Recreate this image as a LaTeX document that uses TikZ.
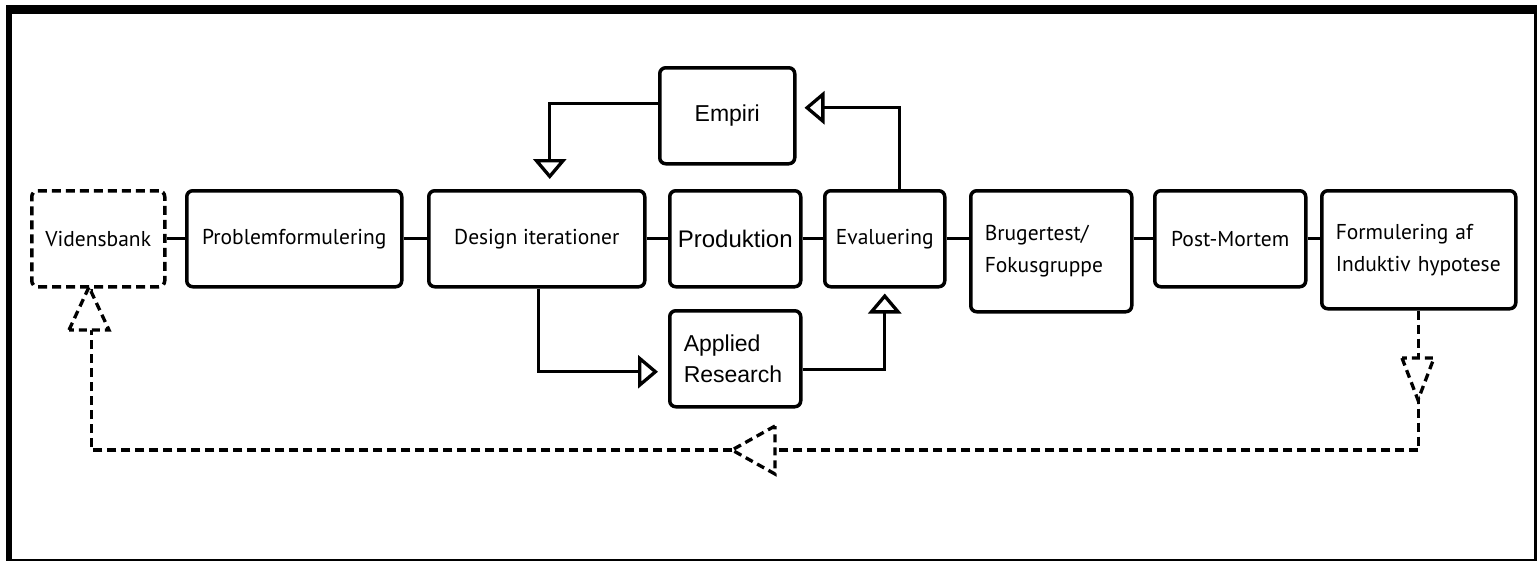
\documentclass[tikz,border=0pt]{standalone}
\usepackage{fontspec}
\newfontfamily\myr{PT Sans}
\newfontfamily\ari{Liberation Sans}
\usetikzlibrary{arrows.meta}
\newcommand\ptsz{\myr\fontsize{21.5}{32}\selectfont}
\newcommand\arsz{\ari\fontsize{23}{31}\selectfont}
\begin{document}
\begin{tikzpicture}[x=1pt,y=-1pt,
  box/.style={draw, line width=3.5pt, rounded corners=6pt, inner sep=0pt,
    anchor=north west, minimum height=96pt, font=\ptsz, align=center},
  lbox/.style={box, align=left, inner xsep=14pt},
  conn/.style={line width=3.3pt},
  arr/.style={line width=3.3pt, -{Triangle[open, length=20pt, width=33pt, line width=3.3pt]}},
  dline/.style={line width=3.3pt, dash pattern=on 9pt off 5pt},
  dtri/.style={draw, fill=white, line width=3.3pt, dash pattern=on 8pt off 5pt, line join=miter}
]
\useasboundingbox (0,0) rectangle (1537,562);
\fill[white] (0,0) rectangle (1537,562);
% frame
\fill[black] (6,5) rectangle (1537,14);
\fill[black] (6,5) rectangle (12,561);
\fill[black] (1534,5) rectangle (1537,561);
\fill[black] (6,559) rectangle (1537,561);

% main row
\node[box, dash pattern=on 9pt off 5pt, minimum width=133pt] (viden) at (30,189) {Vidensbank};
\node[box, minimum width=215pt] (prob) at (185,189) {Problemformulering};
\node[box, minimum width=216pt] (design) at (427,189) {Design iterationer};
\node[box, minimum width=131pt, font=\ari\fontsize{24}{30}\selectfont] (prod) at (668,189) {Produktion};
\node[box, minimum width=120pt] (eval) at (823,189) {Evaluering};
\node[lbox, text width=133pt, minimum height=121pt] (brug) at (969,189) {Brugertest/\\Fokusgruppe};
\node[box, minimum width=151pt] (post) at (1153,189) {Post-Mortem};
\node[lbox, text width=166pt, minimum height=118pt] (form) at (1320,189) {Formulering af\\Induktiv hypotese};
% upper and lower
\node[box, minimum width=135pt, font=\arsz] (empiri) at (658,66) {Empiri};
\node[lbox, text width=103pt, font=\arsz] (applied) at (668,309) {Applied\\Research};

% row connectors
\draw[conn] (viden.east) -- (prob.west);
\draw[conn] (prob.east) -- (design.west);
\draw[conn] (design.east) -- (prod.west);
\draw[conn] (prod.east) -- (eval.west);
\draw[conn] (eval.east) -- (brug.west |- eval.east);
\draw[conn] (brug.east |- post.west) -- (post.west);
\draw[conn] (post.east) -- (form.west |- post.east);

% feedback arrows
\draw[arr, shorten >=10pt] ([yshift=12pt]empiri.west) -| ([xshift=13pt]design.north);
\draw[arr, shorten >=8pt] ([xshift=15pt]eval.north) |- ([yshift=8pt]empiri.east);
\draw[arr, shorten >=10pt] ([xshift=2pt]design.south) |- ([yshift=-13pt]applied.west);
\draw[arr, shorten >=5pt] ([yshift=-11pt]applied.east) -| (eval.south);

% dashed return loop
\coordinate (lowy) at (0,450);
\draw[dline] (form.south) -- (form.south |- lowy) -| ([xshift=-7pt]viden.south);
\draw[dtri] (1402,358) -- (1418,400) -- (1434,358) -- cycle;
\draw[dtri] (775,426) -- (732,450) -- (775,474) -- cycle;
\draw[dtri] (69,330) -- (89,287) -- (109,330) -- cycle;
\end{tikzpicture}
\end{document}
